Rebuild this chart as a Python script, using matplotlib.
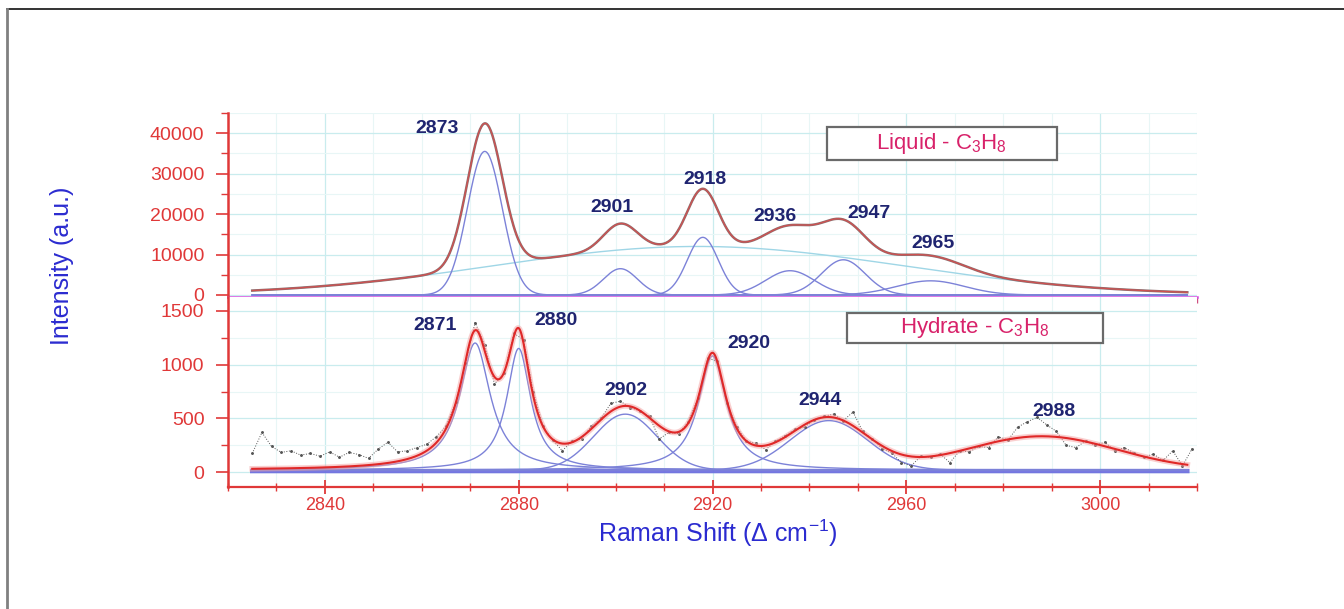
import numpy as np
import matplotlib
matplotlib.use("Agg")
import matplotlib.pyplot as plt
from matplotlib.ticker import MultipleLocator
from matplotlib.patches import Rectangle
from matplotlib.lines import Line2D

plt.rcParams['font.family'] = ['Liberation Sans', 'DejaVu Sans']
plt.rcParams['mathtext.fontset'] = 'custom'
plt.rcParams['mathtext.rm'] = 'Liberation Sans'
plt.rcParams['mathtext.it'] = 'Liberation Sans:italic'
plt.rcParams['mathtext.bf'] = 'Liberation Sans:bold'

# ---------------- data ----------------
# Liquid C3H8: fitted components (Gaussian)
liq_centers = [2873, 2901, 2918, 2936, 2947, 2965]
liq_heights = [35500, 6500, 14250, 6000, 8700, 3500]
liq_sigmas = [3.6, 3.5, 3.2, 5.0, 4.5, 7.0]
liq_broad_center = 2917
liq_broad_height = 12000
liq_broad_sigma = 42
liq_labels = ['2873', '2901', '2918', '2936', '2947', '2965']

# Hydrate C3H8: fitted components
hyd_centers = [2871, 2880, 2902, 2920, 2944, 2988]
hyd_heights = [1180, 1130, 520, 1060, 460, 310]
hyd_widths = [3.8, 3.0, 6.5, 3.5, 8.0, 15.5]
hyd_shapes = ['L', 'L', 'G', 'L', 'G', 'G']
hyd_baseline = 20
hyd_labels = ['2871', '2880', '2902', '2920', '2944', '2988']

# Hydrate raw spectrum (every 2 cm-1 from 2825)
hyd_raw_x = np.arange(2825, 3020, 2)
hyd_raw_y = [175, 370, 240, 185, 200, 160, 175, 150, 190, 140,
             185, 165, 130, 215, 280, 190, 200, 230, 260, 330,
             430, 650, 1010, 1390, 1180, 820, 920, 1290, 1230, 750,
             430, 300, 200, 290, 310, 430, 500, 640, 660, 600,
             570, 520, 310, 370, 360, 470, 690, 1060, 1030, 640,
             420, 290, 270, 210, 290, 340, 400, 420, 490, 520,
             540, 480, 560, 380, 310, 220, 180, 90, 60, 150,
             140, 170, 90, 200, 190, 240, 230, 330, 300, 420,
             470, 510, 440, 380, 250, 230, 290, 250, 280, 200,
             230, 180, 140, 170, 110, 200, 60, 220]
assert len(hyd_raw_y) == len(hyd_raw_x)

x_ticks = [2840, 2880, 2920, 2960, 3000]
liq_yticks = [0, 10000, 20000, 30000, 40000]
hyd_yticks = [0, 500, 1000, 1500]

# ---------------- style ----------------
RED = '#e03838'
BLUE_LBL = '#2b2bd0'
NAVY = '#1f2470'
PINK = '#d8226a'
COMP = '#7c82d8'

def gauss(x, c, h, s):
    return h * np.exp(-(x - c) ** 2 / (2 * s ** 2))

def lor(x, c, h, w):
    return h / (1 + ((x - c) / w) ** 2)

fig = plt.figure(figsize=(13.44, 6.09), dpi=100)
W, H = 1344, 609
ax1 = fig.add_axes([228 / W, 1 - 297 / H, 969 / W, 184 / H])
ax2 = fig.add_axes([228 / W, 1 - 487 / H, 969 / W, 190 / H], sharex=ax1)

for ax in (ax1, ax2):
    ax.set_xlim(2820, 3020)
    ax.xaxis.set_major_locator(MultipleLocator(40))
    ax.xaxis.set_minor_locator(MultipleLocator(10))
    ax.grid(which='major', color='#c9ecee', lw=0.9, zorder=0)
    ax.grid(which='minor', color='#e8f6f6', lw=0.8, zorder=0)
    ax.set_axisbelow(True)
    for s in ('top', 'right'):
        ax.spines[s].set_visible(False)
    ax.spines['left'].set_color(RED)
    ax.spines['left'].set_linewidth(1.8)
    ax.tick_params(axis='y', which='major', direction='out', length=9, width=1.2,
                   color=RED, labelcolor=RED, labelsize=14, pad=8)
    ax.tick_params(axis='y', which='minor', direction='out', length=5, width=1.0, color=RED)

# ---- top panel: liquid ----
xs = np.linspace(2825, 3018, 1200)
liq_total = gauss(xs, liq_broad_center, liq_broad_height, liq_broad_sigma)
ax1.plot(xs, gauss(xs, liq_broad_center, liq_broad_height, liq_broad_sigma),
         color='#9fd6e6', lw=1.0, zorder=2)
for c, h, s in zip(liq_centers, liq_heights, liq_sigmas):
    comp = gauss(xs, c, h, s)
    liq_total = liq_total + comp
    ax1.plot(xs, comp, color=COMP, lw=1.0, zorder=3)
ax1.plot(xs, liq_total, color='#8c7070', lw=1.8, zorder=4)
ax1.plot(xs, liq_total, color='#d05050', lw=0.9, zorder=5)

ax1.set_ylim(-500, 45000)
ax1.set_yticks(liq_yticks)
ax1.yaxis.set_minor_locator(MultipleLocator(5000))
ax1.spines['bottom'].set_color('#d64fe0')
ax1.spines['bottom'].set_linewidth(1.8)
ax1.tick_params(axis='x', which='both', labelbottom=False, direction='out',
                color='#d05080')
ax1.tick_params(axis='x', which='major', length=6, width=1.2)
ax1.tick_params(axis='x', which='minor', length=4, width=1.0)

liq_label_pos = [(2863.1, 41090), (2899.2, 21535), (2918.4, 28465),
                 (2932.8, 19300), (2952.2, 20050), (2965.6, 12620)]
for t, (px, py) in zip(liq_labels, liq_label_pos):
    ax1.text(px, py, t, ha='center', va='center', color=NAVY,
             fontsize=14, fontweight='bold', zorder=6)

ax1.add_patch(Rectangle((0.618, 0.745), 0.2375, 0.179, transform=ax1.transAxes,
                        fill=True, facecolor='white', edgecolor='#6a6a6a', lw=1.6, zorder=6))
ax1.text(0.618 + 0.2375 / 2, 0.745 + 0.179 / 2,
         r'Liquid - C$_\mathregular{3}$H$_\mathregular{8}$',
         transform=ax1.transAxes, ha='center', va='center', color=PINK,
         fontsize=16, zorder=7)

# ---- bottom panel: hydrate ----
hyd_total = np.full_like(xs, hyd_baseline, dtype=float)
for c, h, w, sh in zip(hyd_centers, hyd_heights, hyd_widths, hyd_shapes):
    comp = lor(xs, c, h, w) if sh == 'L' else gauss(xs, c, h, w)
    hyd_total = hyd_total + comp
    if c != 2988:
        ax2.plot(xs, comp + hyd_baseline, color=COMP, lw=1.0, zorder=3)
ax2.plot(xs, np.full_like(xs, hyd_baseline - 8), color='#6a6ade', lw=3.2, alpha=0.9, zorder=2)
ax2.plot(hyd_raw_x, hyd_raw_y, color='#555555', lw=0.7, ls=':', marker='.',
         markersize=2.2, zorder=4)
ax2.plot(xs, hyd_total, color='#f4a0a0', lw=4, alpha=0.5, zorder=5)
ax2.plot(xs, hyd_total, color='#e02828', lw=1.5, zorder=6)

ax2.set_ylim(-136, 1627)
ax2.set_yticks(hyd_yticks)
ax2.yaxis.set_minor_locator(MultipleLocator(250))
ax2.spines['bottom'].set_color(RED)
ax2.spines['bottom'].set_linewidth(1.6)
ax2.set_xticks(x_ticks)
ax2.tick_params(axis='x', which='major', direction='inout', length=10, width=1.3,
                color=RED, labelcolor=RED, labelsize=13, pad=2)
ax2.tick_params(axis='x', which='minor', direction='inout', length=6, width=1.0, color=RED)

hyd_label_pos = [(2862.7, 1358), (2887.8, 1405), (2902.1, 755),
                 (2927.6, 1191), (2942.1, 662), (2990.5, 569)]
for t, (px, py) in zip(hyd_labels, hyd_label_pos):
    ax2.text(px, py, t, ha='center', va='center', color=NAVY,
             fontsize=14, fontweight='bold', zorder=8)

ax2.add_patch(Rectangle((0.639, 0.758), 0.264, 0.158, transform=ax2.transAxes,
                        fill=True, facecolor='white', edgecolor='#6a6a6a', lw=1.6, zorder=7))
ax2.text(0.639 + 0.264 / 2, 0.758 + 0.158 / 2,
         r'Hydrate - C$_\mathregular{3}$H$_\mathregular{8}$',
         transform=ax2.transAxes, ha='center', va='center', color=PINK,
         fontsize=16, zorder=8)

# axis titles
fig.text(62 / W, 1 - 266 / H, 'Intensity (a.u.)', rotation=90, ha='center', va='center',
         color=BLUE_LBL, fontsize=18)
fig.text(718 / W, 1 - 533 / H, r'Raman Shift ($\Delta$ cm$^\mathregular{-1}$)',
         ha='center', va='center', color=BLUE_LBL, fontsize=18)

# outer frame lines
fig.add_artist(Line2D([7 / W, 1], [1 - 9 / H, 1 - 9 / H], color='#111111', lw=1.2))
fig.add_artist(Line2D([7 / W, 7 / W], [0, 1 - 9 / H], color='#808080', lw=2.0))

fig.savefig('out.png', dpi=100)
